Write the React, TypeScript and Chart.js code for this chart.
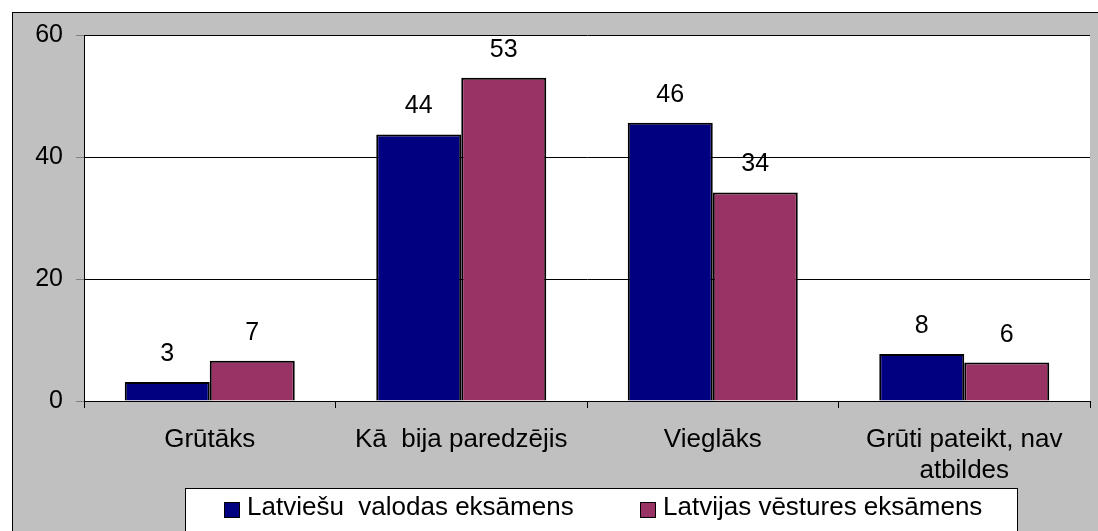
import React, { useEffect, useRef } from "react";
import { Chart, registerables } from "chart.js";

Chart.register(...registerables);

const FAMILY = "'Liberation Sans', Arial, sans-serif";

const categories: (string | string[])[] = [
  "Grūtāks",
  "Kā  bija paredzējis",
  "Vieglāks",
  ["Grūti pateikt, nav", "atbildes"],
];
const seriesNames = ["Latviešu  valodas eksāmens", "Latvijas vēstures eksāmens"];
const latviesuValues = [3.1, 43.7, 45.6, 7.7];
const vesturesValues = [6.6, 53.0, 34.2, 6.3];
const seriesColors = ["#000080", "#993366"];
const yMin = 0;
const yMax = 60;
const yStep = 20;

const valueLabelPlugin = {
  id: "valueLabels",
  afterDatasetsDraw(chart: any) {
    const ctx = chart.ctx;
    ctx.save();
    ctx.font = `25px ${FAMILY}`;
    ctx.fillStyle = "#000";
    ctx.textAlign = "center";
    ctx.textBaseline = "alphabetic";
    chart.data.datasets.forEach((ds: any, di: number) => {
      chart.getDatasetMeta(di).data.forEach((bar: any, i: number) => {
        ctx.fillText(String(Math.round(ds.data[i])), bar.x, bar.y - 21);
      });
    });
    ctx.restore();
  },
};

const boxLegendPlugin = {
  id: "boxLegend",
  afterDraw(chart: any, _args: any, opts: any) {
    const ctx = chart.ctx;
    const { left, top, width, height, inset, squareTop, squareSize, textGap, baseline } = opts;
    ctx.save();
    ctx.fillStyle = "#ffffff";
    ctx.fillRect(left, top, width, height);
    ctx.strokeStyle = "#000";
    ctx.lineWidth = 1;
    ctx.strokeRect(left + 0.5, top + 0.5, width, height);
    const n = chart.data.datasets.length;
    const col = width / n;
    ctx.font = `26px ${FAMILY}`;
    ctx.textAlign = "left";
    ctx.textBaseline = "alphabetic";
    chart.data.datasets.forEach((ds: any, i: number) => {
      const x = Math.round(left + i * col + inset);
      ctx.fillStyle = ds.backgroundColor;
      ctx.fillRect(x, squareTop, squareSize, squareSize);
      ctx.strokeStyle = "#000";
      ctx.strokeRect(x + 0.5, squareTop + 0.5, squareSize - 1, squareSize - 1);
      ctx.fillStyle = "#000";
      ctx.fillText(ds.label, x + squareSize + textGap, baseline);
    });
    ctx.restore();
  },
};

export default function App() {
  const ref = useRef<HTMLCanvasElement | null>(null);

  useEffect(() => {
    document.body.style.overflow = "hidden";
    const canvas = ref.current;
    if (!canvas) return;
    const chart = new Chart(canvas, {
      type: "bar",
      data: {
        labels: categories as any,
        datasets: [
          {
            label: seriesNames[0],
            data: latviesuValues,
            backgroundColor: seriesColors[0],
            borderColor: "#000",
            borderWidth: 2,
            barPercentage: 1,
            categoryPercentage: 0.676,
          },
          {
            label: seriesNames[1],
            data: vesturesValues,
            backgroundColor: seriesColors[1],
            borderColor: "#000",
            borderWidth: 2,
            barPercentage: 1,
            categoryPercentage: 0.676,
          },
        ],
      },
      options: {
        responsive: false,
        animation: false,
        devicePixelRatio: 1,
        layout: { padding: { left: 0, top: 22, right: 23, bottom: 0 } },
        plugins: {
          legend: { display: false },
          tooltip: { enabled: false },
          boxLegend: {
            left: 172,
            top: 475,
            width: 832,
            height: 80,
            inset: 39,
            squareTop: 489,
            squareSize: 16,
            textGap: 7,
            baseline: 502,
          },
        } as any,
        scales: {
          x: {
            grid: {
              offset: true,
              drawOnChartArea: true,
              drawTicks: true,
              tickLength: 7,
              color: (c: any) => (c.index === categories.length ? "#808080" : "rgba(0,0,0,0)"),
              tickColor: "#000",
            },
            border: { display: true, color: "#000", width: 1 },
            ticks: {
              font: { size: 26, family: FAMILY },
              color: "#000",
              padding: 16,
              maxRotation: 0,
              autoSkip: false,
            },
            afterFit: (s: any) => {
              s.height = 142;
              s.paddingLeft = 0;
              s.paddingRight = 0;
            },
          },
          y: {
            min: yMin,
            max: yMax,
            grid: {
              color: "#000",
              drawTicks: true,
              tickLength: 8,
              tickColor: "#808080",
            },
            border: { display: true, color: "#000", width: 1 },
            ticks: {
              stepSize: yStep,
              font: { size: 25, family: FAMILY },
              color: "#000",
              padding: 13,
            },
            afterFit: (s: any) => {
              s.width = 71;
              s.paddingTop = 0;
              s.paddingBottom = 0;
            },
          },
        },
      },
      plugins: [
        {
          id: "plotBg",
          beforeDraw(c: any) {
            const a = c.chartArea;
            c.ctx.save();
            c.ctx.fillStyle = "#ffffff";
            c.ctx.fillRect(a.left, a.top, a.right - a.left, a.bottom - a.top);
            c.ctx.restore();
          },
        },
        valueLabelPlugin,
        boxLegendPlugin,
      ],
    });
    return () => chart.destroy();
  }, []);

  return (
    <div
      style={{
        position: "fixed",
        left: 12,
        top: 12,
        width: 1200,
        height: 600,
        background: "#C0C0C0",
        borderLeft: "1px solid #000",
        borderTop: "1px solid #000",
      }}
    >
      <canvas ref={ref} width={1100} height={530} style={{ display: "block", width: 1100, height: 530 }} />
    </div>
  );
}
